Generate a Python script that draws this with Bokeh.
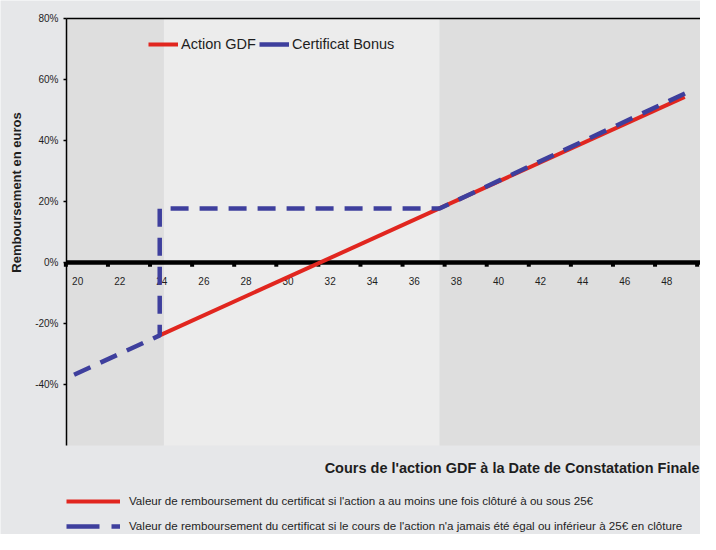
from bokeh.plotting import figure
from bokeh.models import Range1d, Label, Legend, LegendItem
from bokeh.core.properties import value
from bokeh.embed import file_html
from bokeh.resources import INLINE

# ---- data -------------------------------------------------------------
x_tick_values = [20, 22, 24, 26, 28, 30, 32, 34, 36, 38, 40, 42, 44, 46, 48]
x_tick_labels = [str(v) for v in x_tick_values]
y_tick_values = [-40, -20, 0, 20, 40, 60, 80]
y_tick_labels = ["-40%", "-20%", "0%", "20%", "40%", "60%", "80%"]

action_x = [23.9, 48.85]
action_y = [-23.9, 54.3]

bonus_x = [19.83, 23.9, 23.9, 37.2, 49.1]
bonus_y = [-36.8, -23.9, 17.7, 17.7, 56.2]

plot_x = [19.47, 49.6]          # x extent of the plotting area
plot_y = [-60, 80]              # y extent of the plotting area
band_edges = [24.1, 37.2]

legend_top = ["Action GDF", "Certificat Bonus"]
legend_bottom = [
    "Valeur de remboursement du certificat si l'action a au moins une fois clôturé à ou sous 25€",
    "Valeur de remboursement du certificat si le cours de l'action n'a jamais été égal ou inférieur à 25€ en clôture",
]
x_title = "Cours de l'action GDF à la Date de Constatation Finale"
y_title = "Remboursement en euros"

# ---- styles / layout ---------------------------------------------------
W, H = 700, 534
PL, PR, PT, PB = 66, 700, 18, 445     # plotting area in canvas pixels
OUTER = "#e6e7e9"
DARK = "#dedede"
LIGHT = "#ececec"
RED = "#e1261f"
BLUE = "#3e3f9d"
FONT = "Liberation Sans"
TXT = "#1e1e1e"

sx = (PR - PL) / (plot_x[1] - plot_x[0])
sy = (PB - PT) / (plot_y[1] - plot_y[0])
x_range = Range1d(plot_x[0] - PL / sx, plot_x[1] + (W - PR) / sx)
y_range = Range1d(plot_y[0] - (H - PB) / sy, plot_y[1] + PT / sy)

p = figure(width=W, height=H, x_range=x_range, y_range=y_range,
           output_backend="svg", toolbar_location=None,
           x_axis_location=None, y_axis_location=None,
           min_border=0, background_fill_color=OUTER, border_fill_color=OUTER,
           outline_line_color=None)
p.grid.grid_line_color = None

# plotting area with shaded bands
p.quad(left=[plot_x[0], band_edges[0], band_edges[1]],
       right=[band_edges[0], band_edges[1], plot_x[1]],
       bottom=plot_y[0], top=plot_y[1],
       fill_color=[DARK, LIGHT, DARK], line_color=None)

# y axis (line, ticks, labels) and top border
tick_len = 3 / sx
p.segment(x0=[plot_x[0]], y0=[plot_y[0]], x1=[plot_x[0]], y1=[plot_y[1]],
          line_color="black", line_width=1.5)
p.segment(x0=[plot_x[0] - tick_len] * len(y_tick_values), y0=y_tick_values,
          x1=[plot_x[0]] * len(y_tick_values), y1=y_tick_values,
          line_color="black", line_width=1.5)
p.segment(x0=[plot_x[0]], y0=[plot_y[1]], x1=[plot_x[1]], y1=[plot_y[1]],
          line_color="black", line_width=1.5)
p.text(x=[plot_x[0]] * len(y_tick_values), y=y_tick_values, text=y_tick_labels,
       text_align="right", text_baseline="middle", x_offset=-8,
       text_font=value(FONT), text_font_size="10px", text_color=TXT)

# x axis drawn at 0
p.segment(x0=[plot_x[0]], y0=[0], x1=[plot_x[1]], y1=[0], line_color="black", line_width=4.5)
tick_marks = [v - 0.56 for v in x_tick_values] + [x_tick_values[-1] + 1.44]
p.segment(x0=tick_marks, y0=[0] * len(tick_marks), x1=tick_marks, y1=[-4.2 / sy] * len(tick_marks),
          line_color="black", line_width=4)
p.text(x=x_tick_values, y=[0] * len(x_tick_values), text=x_tick_labels, text_align="center",
       text_baseline="middle", y_offset=18, text_font=value(FONT), text_font_size="10px",
       text_color=TXT)

# series
red = p.line(action_x, action_y, line_color=RED, line_width=4)
blue = p.line(bonus_x, bonus_y, line_color=BLUE, line_width=4.5, line_dash="18 11")

nan = float("nan")
blue_solid = p.line(x=[nan, nan], y=[nan, nan], line_color=BLUE, line_width=4.5)
blue_long = p.line(x=[nan, nan], y=[nan, nan], line_color=BLUE, line_width=4.5, line_dash="33 12")

leg1 = Legend(items=[LegendItem(label=legend_top[0], renderers=[red]),
                     LegendItem(label=legend_top[1], renderers=[blue_solid])],
              orientation="horizontal", location=(148, H - 44 - 8), background_fill_alpha=0,
              border_line_color=None, glyph_width=30, glyph_height=16, label_height=16,
              label_standoff=3, spacing=3, padding=0, margin=0,
              label_text_font=FONT, label_text_font_size="14.5px", label_text_color=TXT)
p.add_layout(leg1)

leg2 = Legend(items=[LegendItem(label=legend_bottom[0], renderers=[red]),
                     LegendItem(label=legend_bottom[1], renderers=[blue_long])],
              orientation="vertical", location=(PL, 2), background_fill_alpha=0,
              border_line_color=None, glyph_width=54, glyph_height=12, label_height=12,
              label_standoff=9, spacing=12, padding=0, margin=0,
              label_text_font=FONT, label_text_font_size="11.6px", label_text_color=TXT)
p.add_layout(leg2)

p.add_layout(Label(x=PR - 1, y=H - 467, x_units="screen", y_units="screen", text=x_title,
                   text_align="right", text_baseline="middle", text_font=FONT,
                   text_font_size="14.5px", text_font_style="bold", text_color=TXT))
p.add_layout(Label(x=16, y=H - 192, x_units="screen", y_units="screen", text=y_title, angle=90,
                   angle_units="deg", text_align="center", text_baseline="middle", text_font=FONT,
                   text_font_size="13px", text_font_style="bold", text_color=TXT))

open("out.html", "w").write(file_html(p, INLINE))
